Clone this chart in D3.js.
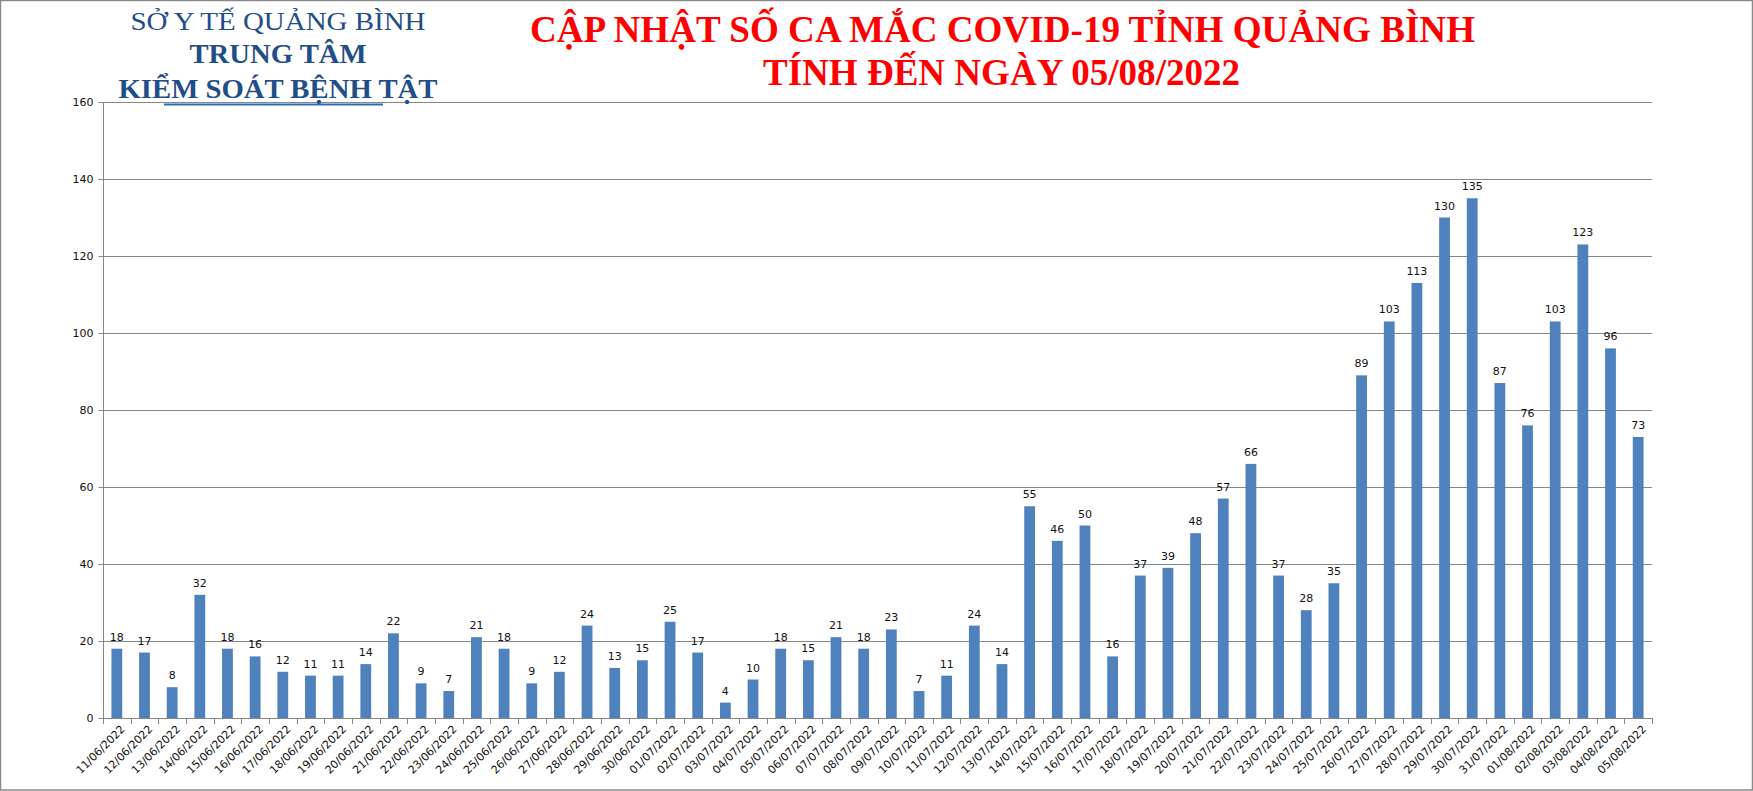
<!DOCTYPE html>
<html>
<head>
<meta charset="utf-8">
<script src="https://cdn.jsdelivr.net/npm/d3@7"></script>
<style>
  html, body { margin: 0; padding: 0; background: #fff; }
  svg { display: block; }
</style>
</head>
<body>
<svg id="chart" width="1753" height="791"></svg>
<script>
const categories = [
  "11/06/2022","12/06/2022","13/06/2022","14/06/2022","15/06/2022","16/06/2022","17/06/2022","18/06/2022","19/06/2022","20/06/2022",
  "21/06/2022","22/06/2022","23/06/2022","24/06/2022","25/06/2022","26/06/2022","27/06/2022","28/06/2022","29/06/2022","30/06/2022",
  "01/07/2022","02/07/2022","03/07/2022","04/07/2022","05/07/2022","06/07/2022","07/07/2022","08/07/2022","09/07/2022","10/07/2022",
  "11/07/2022","12/07/2022","13/07/2022","14/07/2022","15/07/2022","16/07/2022","17/07/2022","18/07/2022","19/07/2022","20/07/2022",
  "21/07/2022","22/07/2022","23/07/2022","24/07/2022","25/07/2022","26/07/2022","27/07/2022","28/07/2022","29/07/2022","30/07/2022",
  "31/07/2022","01/08/2022","02/08/2022","03/08/2022","04/08/2022","05/08/2022"
];
const cases = [
  18,17,8,32,18,16,12,11,11,14,
  22,9,7,21,18,9,12,24,13,15,
  25,17,4,10,18,15,21,18,23,7,
  11,24,14,55,46,50,16,37,39,48,
  57,66,37,28,35,89,103,113,130,135,
  87,76,103,123,96,73
];
const yTicks = [0,20,40,60,80,100,120,140,160];
const headerLines = ["SỞ Y TẾ QUẢNG BÌNH", "TRUNG TÂM", "KIỂM SOÁT BỆNH TẬT"];
const titleLines = ["CẬP NHẬT SỐ CA MẮC COVID-19 TỈNH QUẢNG BÌNH", "TÍNH ĐẾN NGÀY 05/08/2022"];

const svg = d3.select("#chart");
const W = 1753, H = 791;
const plot = { left: 103, right: 1652, top: 102, bottom: 718 };

// frame
svg.append("rect").attr("x", 0.5).attr("y", 0.5).attr("width", W - 1).attr("height", H - 1.5)
  .attr("fill", "#fff").attr("stroke", "#8a8a8a").attr("stroke-width", 1.5);

const x = d3.scaleBand().domain(categories).range([plot.left, plot.right])
  .paddingInner(0.61).paddingOuter(0.305);
const y = d3.scaleLinear().domain([0, 160]).range([plot.bottom, plot.top]);

// gridlines
svg.append("g").selectAll("line").data(yTicks.filter(d => d > 0)).join("line")
  .attr("x1", plot.left).attr("x2", plot.right)
  .attr("y1", d => Math.round(y(d)) + 0.5).attr("y2", d => Math.round(y(d)) + 0.5)
  .attr("stroke", "#868686").attr("stroke-width", 1);

// header (left)
const hdrColor = "#1f4e89";
const hdrCx = 278;
svg.append("text").attr("x", hdrCx).attr("y", 30).attr("text-anchor", "middle")
  .attr("font-family", "Liberation Serif, Times New Roman, serif").attr("font-size", 26)
  .attr("fill", hdrColor).attr("textLength", 295).attr("lengthAdjust", "spacingAndGlyphs")
  .text(headerLines[0]);
svg.append("text").attr("x", hdrCx).attr("y", 63).attr("text-anchor", "middle")
  .attr("font-family", "Liberation Serif, Times New Roman, serif").attr("font-size", 27).attr("font-weight", "bold")
  .attr("fill", hdrColor).attr("textLength", 177).attr("lengthAdjust", "spacingAndGlyphs")
  .text(headerLines[1]);
svg.append("text").attr("x", hdrCx).attr("y", 97.5).attr("text-anchor", "middle")
  .attr("font-family", "Liberation Serif, Times New Roman, serif").attr("font-size", 28).attr("font-weight", "bold")
  .attr("fill", hdrColor).attr("textLength", 319).attr("lengthAdjust", "spacingAndGlyphs")
  .text(headerLines[2]);
svg.append("line").attr("x1", 164).attr("x2", 383).attr("y1", 104.5).attr("y2", 104.5)
  .attr("stroke", "#2e6db4").attr("stroke-width", 1.8);

// title
svg.append("text").attr("x", 1002.5).attr("y", 42).attr("text-anchor", "middle")
  .attr("font-family", "Liberation Serif, Times New Roman, serif").attr("font-size", 38).attr("font-weight", "bold")
  .attr("fill", "#ff0000").attr("textLength", 945).attr("lengthAdjust", "spacingAndGlyphs")
  .text(titleLines[0]);
svg.append("text").attr("x", 1001.5).attr("y", 85).attr("text-anchor", "middle")
  .attr("font-family", "Liberation Serif, Times New Roman, serif").attr("font-size", 38).attr("font-weight", "bold")
  .attr("fill", "#ff0000").attr("textLength", 477).attr("lengthAdjust", "spacingAndGlyphs")
  .text(titleLines[1]);

// bars
svg.append("g").selectAll("rect").data(categories).join("rect")
  .attr("x", d => x(d)).attr("width", x.bandwidth())
  .attr("y", (d, i) => y(cases[i])).attr("height", (d, i) => y(0) - y(cases[i]))
  .attr("fill", "#4f81bd");

// data labels
svg.append("g").selectAll("text").data(categories).join("text")
  .attr("x", d => x(d) + x.bandwidth() / 2)
  .attr("y", (d, i) => y(cases[i]) - 8)
  .attr("text-anchor", "middle")
  .attr("font-family", "DejaVu Sans, Verdana, sans-serif").attr("font-size", 11)
  .attr("fill", "#111")
  .text((d, i) => cases[i]);

// y axis
const yAxis = svg.append("g").attr("transform", `translate(${plot.left + 0.5},0)`)
  .call(d3.axisLeft(y).tickValues(yTicks).tickSize(5).tickPadding(5));
yAxis.select(".domain").attr("stroke", "#868686").attr("d", `M0,${plot.top}V${plot.bottom + 0.5}`);
yAxis.selectAll(".tick line").attr("stroke", "#868686");
yAxis.selectAll(".tick text").attr("font-family", "DejaVu Sans, Verdana, sans-serif")
  .attr("font-size", 11).attr("fill", "#111");

// x axis line
svg.append("line").attr("x1", plot.left).attr("x2", plot.right)
  .attr("y1", plot.bottom + 0.5).attr("y2", plot.bottom + 0.5).attr("stroke", "#868686");

// x tick marks between categories
const step = x.step();
const boundaries = categories.map(d => x(d) + x.bandwidth() / 2 - step / 2)
  .concat([x(categories[categories.length - 1]) + x.bandwidth() / 2 + step / 2]);
svg.append("g").selectAll("line").data(boundaries).join("line")
  .attr("x1", d => Math.round(d) + 0.5).attr("x2", d => Math.round(d) + 0.5)
  .attr("y1", plot.bottom).attr("y2", plot.bottom + 6)
  .attr("stroke", "#868686");

// x labels
svg.append("g").selectAll("text").data(categories).join("text")
  .attr("transform", d => `translate(${x(d) + x.bandwidth() / 2 + 6},${plot.bottom + 9}) rotate(-45)`)
  .attr("text-anchor", "end").attr("dy", "0.35em")
  .attr("font-family", "DejaVu Sans, Verdana, sans-serif").attr("font-size", 11)
  .attr("fill", "#111")
  .text(d => d);
</script>
</body>
</html>
